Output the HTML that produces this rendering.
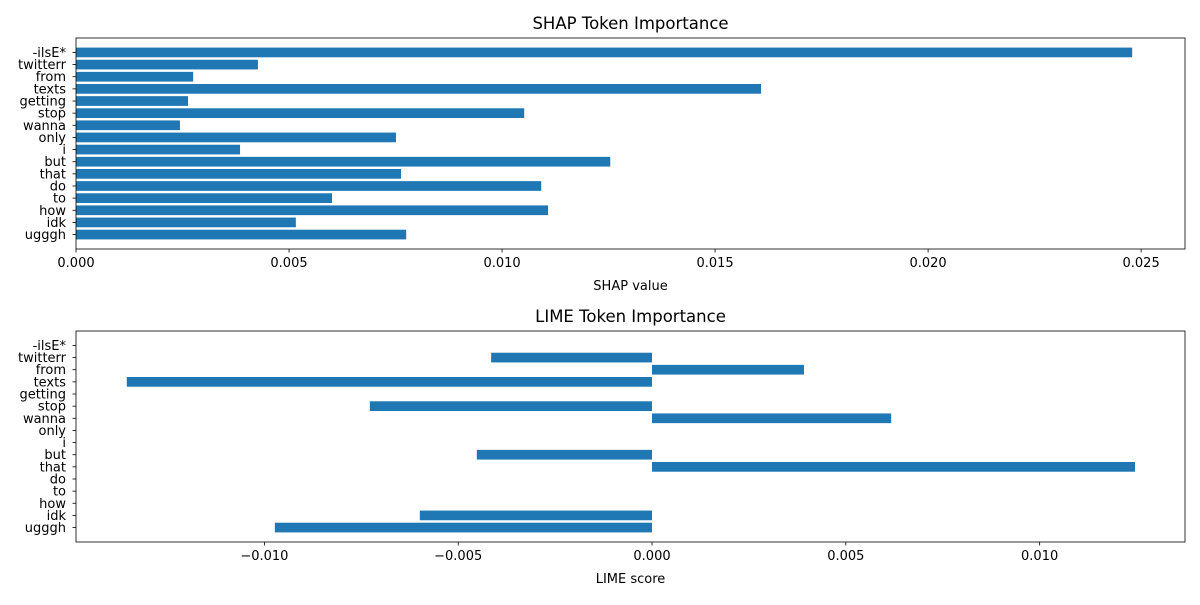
<!DOCTYPE html>
<html><head><meta charset="utf-8"><style>
body{margin:0;background:#fff;}
svg text{font-family:"DejaVu Sans","Liberation Sans",sans-serif;fill:#000;}
</style></head><body>
<svg id="chart" width="1200" height="600" xmlns="http://www.w3.org/2000/svg"></svg>
<script>
const tokens = ["-ilsE*","twitterr","from","texts","getting","stop","wanna","only","i","but","that","do","to","how","idk","ugggh"];
const shapValues = [0.02479,0.00427,0.00275,0.01608,0.00263,0.01052,0.00244,0.00751,0.00385,0.01254,0.00763,0.01092,0.00601,0.01108,0.00516,0.00775];
const limeValues = [0,-0.00415,0.00392,-0.01355,0,-0.00728,0.00617,0,0,-0.00452,0.01246,0,0,0,-0.00599,-0.00973];
const shapTicks = [0,0.005,0.010,0.015,0.020,0.025];
const shapTickLabels = ["0.000","0.005","0.010","0.015","0.020","0.025"];
const limeTicks = [-0.010,-0.005,0,0.005,0.010];
const limeTickLabels = ["\u22120.010","\u22120.005","0.000","0.005","0.010"];

const svg = document.getElementById('chart');
const NS = "http://www.w3.org/2000/svg";
function mk(tag, attrs, parent){
  const e = document.createElementNS(NS, tag);
  for (const k in attrs) e.setAttribute(k, attrs[k]);
  (parent||svg).appendChild(e);
  return e;
}
function panel(name, top, xmin, xmax, values, ticks, tickLabels, title, xlabel){
  const L=76, R=1185, T=top, B=top+211;
  const g = mk('g', {});
  
  
  const xs = v => L + (v - xmin) / (xmax - xmin) * (R - L);
  const n = tokens.length;
  const ylo = -0.4 - 0.79, yhi = (n - 1) + 0.4 + 0.79;
  const ys = i => T + (i - ylo) / (yhi - ylo) * (B - T);
  values.forEach((v, i) => {
    const x0 = xs(0), x1 = xs(v);
    const r = mk('rect', {x: Math.min(x0, x1), y: ys(i) - 0.4 * (B - T) / (yhi - ylo), width: Math.abs(x1 - x0), height: 0.8 * (B - T) / (yhi - ylo), fill: '#1f77b4'}, g);
    
    
    mk('line', {x1: L - 3.5, x2: L, y1: ys(i), y2: ys(i), stroke: '#000', 'stroke-width': 0.8}, g);
    const t = mk('text', {x: L - 10, y: ys(i) + 4.5, 'text-anchor': 'end', 'font-size': 13}, g);
    t.textContent = tokens[i];
    
    
  });
  ticks.forEach((v, i) => {
    mk('line', {x1: xs(v), x2: xs(v), y1: B, y2: B + 3.5, stroke: '#000', 'stroke-width': 0.8}, g);
    const t = mk('text', {x: xs(v), y: B + 18, 'text-anchor': 'middle', 'font-size': 13}, g);
    t.textContent = tickLabels[i];
    
    
  });
  const fr = mk('rect', {x: L, y: T, width: R - L, height: B - T, fill: 'none', stroke: '#000', 'stroke-width': 0.8}, g);
  
  
  const tt = mk('text', {x: (L + R) / 2, y: T - 9, 'text-anchor': 'middle', 'font-size': 16.5}, g);
  tt.textContent = title;
  
  
  const xl = mk('text', {x: (L + R) / 2, y: B + 41, 'text-anchor': 'middle', 'font-size': 13}, g);
  xl.textContent = xlabel;
  
  
}
panel('shap', 38, 0, 0.02603, shapValues, shapTicks, shapTickLabels, 'SHAP Token Importance', 'SHAP value');
panel('lime', 331, -0.01486, 0.01375, limeValues, limeTicks, limeTickLabels, 'LIME Token Importance', 'LIME score');
</script>
</body></html>
